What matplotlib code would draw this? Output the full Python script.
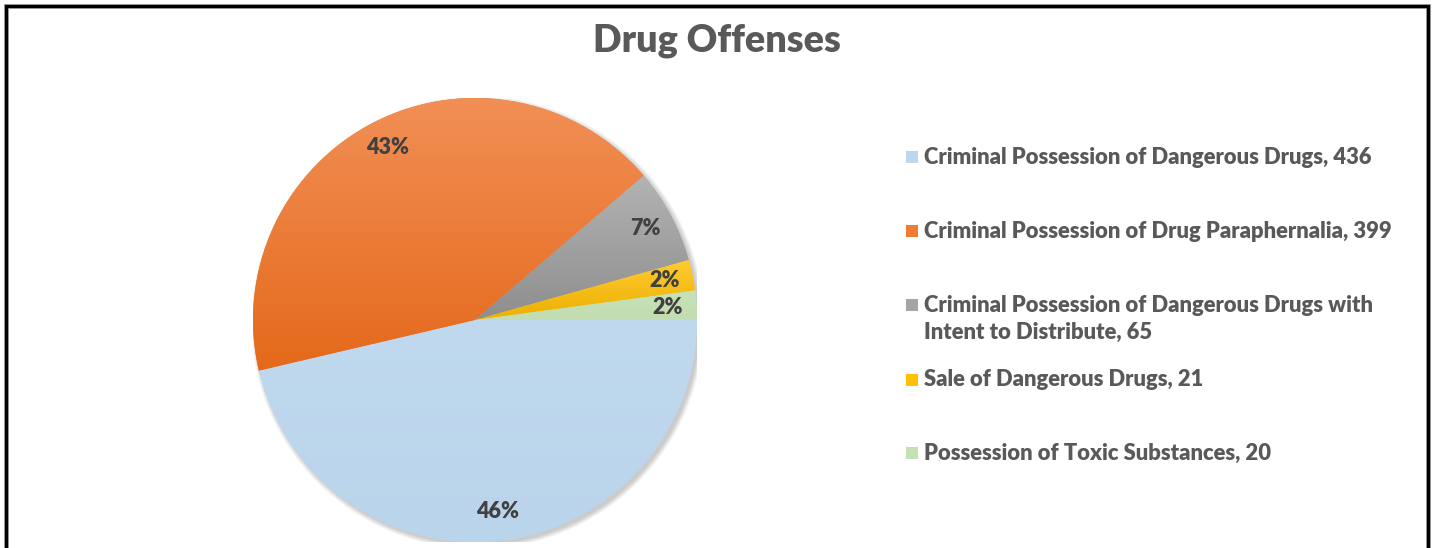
import numpy as np
import matplotlib
matplotlib.use("Agg")
import matplotlib.pyplot as plt
from matplotlib.colors import LinearSegmentedColormap
from matplotlib.patches import Rectangle, Circle
from matplotlib.lines import Line2D

# data
categories = [
    "Criminal Possession of Dangerous Drugs",
    "Criminal Possession of Drug Paraphernalia",
    "Criminal Possession of Dangerous Drugs with\nIntent to Distribute",
    "Sale of Dangerous Drugs",
    "Possession of Toxic Substances",
]
counts = [436, 399, 65, 21, 20]
pct_labels = ["46%", "43%", "7%", "2%", "2%"]

# light (top) / dark (bottom) gradient stops per slice
top_colors = ["#C0D9EF", "#F28F56", "#B3B3B3", "#FFCB33", "#C8E2B8"]
bottom_colors = ["#BAD4EB", "#E4691B", "#8E8E8E", "#EDB000", "#C2DDB0"]
legend_colors = ["#BDD7EE", "#ED7D31", "#A5A5A5", "#FFC000", "#C5E0B4"]

W, H = 1432, 548
plt.rcParams["font.family"] = ["Lato", "DejaVu Sans"]
fig = plt.figure(figsize=(W / 100, H / 100), dpi=100)
fig.patch.set_facecolor("white")


def fx(px):
    return px / W


def fy(py):
    return 1 - py / H


# pie axes: centre ~ (475, 320) px, radius ~222 px
cx, cy, r = 475, 320, 222
ax = fig.add_axes([fx(cx - r), fy(cy + r), 2 * r / W, 2 * r / H])

# soft drop shadow
for k in range(6):
    ax.add_patch(Circle((0.012, -0.012), 1.0 + k * 0.004, color="black",
                        alpha=0.035, lw=0, zorder=0))

wedges, texts = ax.pie(counts, startangle=0, counterclock=False, radius=1,
                       labels=pct_labels, labeldistance=0.87,
                       colors=legend_colors,
                       wedgeprops=dict(linewidth=0),
                       textprops=dict(fontsize=15.5, fontweight="heavy", color="#404040"))
for t in texts:
    t.set_ha("center")
    t.set_va("center")
    t.set_zorder(5)

# vertical gradient inside every wedge
for w, c_top, c_bot in zip(wedges, top_colors, bottom_colors):
    th = np.radians(np.linspace(w.theta1, w.theta2, 200))
    ys = np.concatenate([np.sin(th) * w.r, [0]])
    ymin, ymax = ys.min(), ys.max()
    cmap = LinearSegmentedColormap.from_list("g", [c_bot, c_top])
    grad = np.linspace(1, 0, 256).reshape(-1, 1)
    im = ax.imshow(grad, extent=[-1.02, 1.02, ymin, ymax], cmap=cmap,
                   aspect="auto", zorder=2, interpolation="bilinear")
    im.set_clip_path(w)

ax.set_xlim(-1, 1)
ax.set_ylim(-1, 1)
ax.set_aspect("equal")
ax.axis("off")

# title
fig.text(fx(717), fy(41), "Drug Offenses", ha="center", va="center",
         fontsize=27.2, fontweight="heavy", color="#595959")

# legend
row_y = [157, 231, 305, 380, 453]
line_px = 28
for name, n, col, y in zip(categories, counts, legend_colors, row_y):
    label = f"{name}, {n}"
    nlines = label.count("\n") + 1
    fig.add_artist(Rectangle((fx(906), fy(y + 6)), 12 / W, 12 / H,
                             transform=fig.transFigure, color=col, lw=0))
    fig.text(fx(924), fy(y + (nlines - 1) * line_px / 2), label, ha="left",
             va="center", fontsize=15.8, fontweight="heavy", color="#595959",
             linespacing=1.33)

# outer frame (left, top, right; bottom is cut off)
frame_x = [fx(5.5), fx(5.5), fx(1427.5), fx(1427.5)]
frame_y = [0, fy(5.5), fy(5.5), 0]
fig.add_artist(Line2D(frame_x, frame_y, transform=fig.transFigure,
                      color="#8A8A8A", lw=3.4, solid_joinstyle="miter"))
fig.add_artist(Line2D(frame_x, frame_y, transform=fig.transFigure,
                      color="black", lw=2.2, solid_joinstyle="miter"))

fig.savefig("out.png", dpi=100)
